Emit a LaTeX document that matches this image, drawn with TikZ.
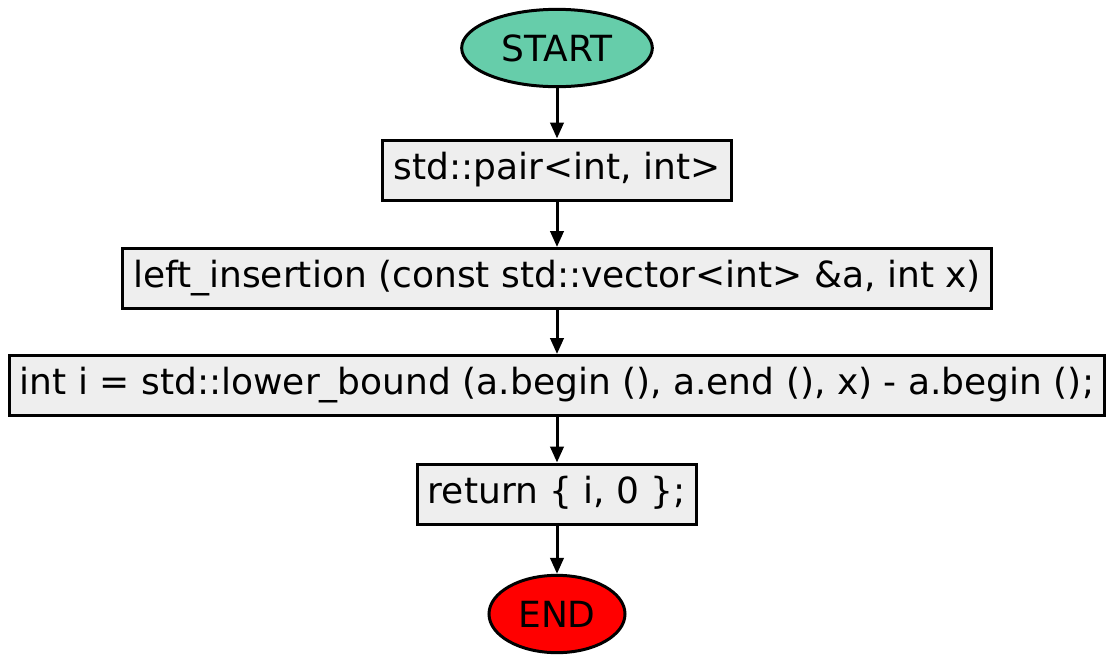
\documentclass[tikz,border=0pt]{standalone}
\usepackage{fontspec}
\setmainfont{DejaVu Sans}
\usetikzlibrary{arrows.meta, shapes.geometric}

\begin{document}
\begin{tikzpicture}[x=0.75pt, y=-0.75pt,
		terminal/.style={draw, line width=2.25pt, ellipse, inner sep=0pt},
		stmt/.style={draw, line width=2.25pt, fill=gray!13, inner xsep=8pt,
			minimum height=45pt, text height=20pt, text depth=6pt},
		flow/.style={line width=2.25pt, -{Triangle[length=12pt, width=10pt]}}]
	\useasboundingbox (0,0) rectangle (1115,665);
	\fontsize{27}{32}\selectfont
	
	\node[terminal, fill={rgb,255:red,102;green,205;blue,170}, minimum width=143pt, minimum height=58pt] (start) at (557,48) {START};
	\node[stmt] (sig) at (557,170) {std::pair<int, int>};
	\node[stmt] (decl) at (557,278.5) {left\_insertion (const std::vector<int> \&a, int x)};
	\node[stmt] (bound) at (557,385.5) {int i = std::lower\_bound (a.begin (), a.end (), x) - a.begin ();};
	\node[stmt] (ret) at (557,494) {return \{ i, 0 \};};
	\node[terminal, fill=red, minimum width=102pt, minimum height=58pt] (stop) at (557,614) {END};
	
	% Pfeile
	\draw[flow] (start) -- (sig);
	\draw[flow] (sig) -- (decl);
	\draw[flow] (decl) -- (bound);
	\draw[flow] (bound) -- (ret);
	\draw[flow] (ret) -- (stop);
\end{tikzpicture}
\end{document}
